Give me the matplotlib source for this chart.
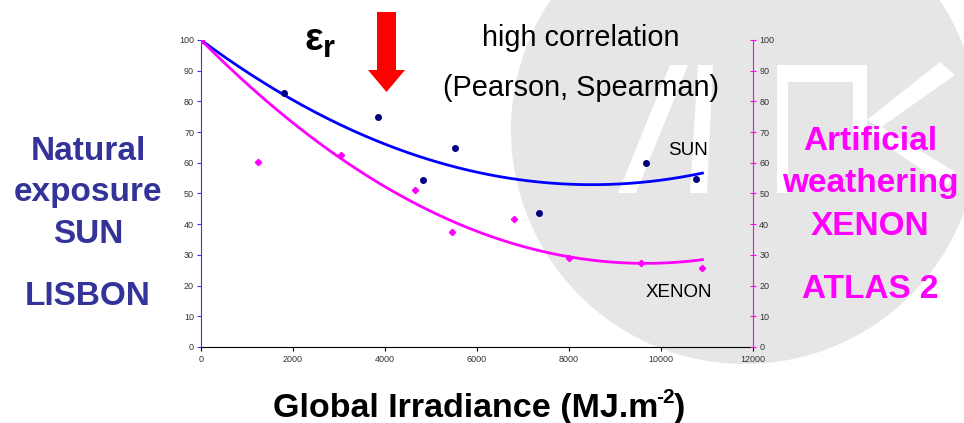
import numpy as np
import matplotlib
matplotlib.use("Agg")
import matplotlib.pyplot as plt
from matplotlib.patches import Ellipse, Polygon

plt.rcParams['font.family'] = ['Liberation Sans', 'DejaVu Sans']

# ---- data ----
sun_x = [0, 1800, 3850, 4830, 5530, 7350, 9680, 10750]
sun_y = [100, 82.6, 75.0, 54.4, 64.7, 43.6, 60.0, 54.7]
xenon_x = [0, 1230, 3040, 4650, 5460, 6800, 7990, 9560, 10900]
xenon_y = [100, 60.4, 62.5, 51.1, 37.6, 41.7, 28.9, 27.3, 25.8]
x_ticks = [0, 2000, 4000, 6000, 8000, 10000, 12000]
y_ticks = [0, 10, 20, 30, 40, 50, 60, 70, 80, 90, 100]

W, H = 964, 423
fig = plt.figure(figsize=(W / 100, H / 100), dpi=100)
fig.patch.set_facecolor('white')


def fx(x):
    return x / W


def fy(y):
    return 1 - y / H


# background grey circle (logo)
circ = Ellipse((fx(745), fy(130)), 2 * 234 / W, 2 * 234 / H,
               transform=fig.transFigure, facecolor='#e6e6e6',
               edgecolor='none', zorder=0)
fig.add_artist(circ)


def poly(pts, color='white', z=0.5):
    p = Polygon([(fx(a), fy(b)) for a, b in pts], closed=True,
                transform=fig.transFigure, facecolor=color,
                edgecolor='none', zorder=z)
    fig.add_artist(p)


# white logo strokes
poly([(618, 193), (636, 193), (688, 65), (670, 65)])
poly([(690, 193), (707, 193), (713, 65), (698, 65)])
poly([(777, 193), (788, 193), (788, 65), (777, 65)])
poly([(777, 65), (867, 65), (867, 82), (777, 82)])
poly([(853, 65), (867, 65), (867, 135), (853, 135)])
poly([(940, 62), (955, 75), (880, 128), (867, 120)])
poly([(867, 133), (880, 126), (955, 172), (947, 186)])

# ---- axes ----
ax = fig.add_axes([fx(201), fy(347), 552 / W, 307 / H])
ax.set_facecolor('none')
ax.set_zorder(2)

xs = np.linspace(0, max(xenon_x), 200)


def fit100(x, y):
    x = np.asarray(x, float)
    y = np.asarray(y, float) - 100
    A = np.vstack([x, x ** 2]).T
    c, *_ = np.linalg.lstsq(A, y, rcond=None)
    return lambda t: 100 + c[0] * t + c[1] * t ** 2


f_sun = fit100(sun_x, sun_y)
f_xen = fit100(xenon_x, xenon_y)
ax.plot(xs, f_sun(xs), color='#0000ff', lw=2.0, zorder=3)
ax.plot(xs, f_xen(xs), color='#ff00ff', lw=2.0, zorder=3)
ax.plot(sun_x, sun_y, 'o', color='#000080', ms=4, zorder=4)
ax.plot(xenon_x, xenon_y, 'D', color='#ff00ff', ms=3.2, zorder=4)

ax.set_xlim(0, 12000)
ax.set_ylim(0, 100)
ax.set_xticks(x_ticks)
ax.set_yticks(y_ticks)
ax.tick_params(axis='both', labelsize=6.5, labelcolor='#333333', length=3, width=0.8)
ax.tick_params(axis='y', color='#3333ff', pad=2)
ax.tick_params(axis='x', color='black', pad=3)
ax.spines['left'].set_color('#3333ff')
ax.spines['bottom'].set_color('black')
ax.spines['top'].set_visible(False)
ax.spines['right'].set_visible(False)

ax2 = ax.twinx()
ax2.set_ylim(0, 100)
ax2.set_yticks(y_ticks)
ax2.tick_params(axis='y', labelsize=6.5, labelcolor='#333333', color='#ff00ff',
                direction='inout', length=5, width=0.8, pad=2)
for s in ['left', 'top', 'bottom']:
    ax2.spines[s].set_visible(False)
ax2.spines['right'].set_color('#ff00ff')

# ---- annotations ----
ax.text(11022, 62.6, 'SUN', fontsize=13.5, color='black', ha='right', va='baseline')
ax.text(11109, 16.3, 'XENON', fontsize=13.5, color='black', ha='right', va='baseline')

fig.text(fx(305), fy(50), 'ε', fontsize=28, fontweight='bold', color='black', va='baseline')
fig.text(fx(323), fy(57), 'r', fontsize=22, fontweight='bold', color='black', va='baseline')

# red arrow
poly([(377, 12), (396, 12), (396, 70), (405, 70), (386.5, 92), (368, 70), (377, 70)],
     color='#ff0000', z=3)

fig.text(fx(581), fy(46), 'high correlation', fontsize=20.8, ha='center', va='baseline')
fig.text(fx(581), fy(96), '(Pearson, Spearman)', fontsize=20.8, ha='center', va='baseline')

blue_c = '#333399'
for txt, yb in [('Natural', 160), ('exposure', 201), ('SUN', 243), ('LISBON', 305)]:
    fig.text(fx(88), fy(yb), txt, fontsize=24, fontweight='bold', color=blue_c,
             ha='center', va='baseline')

mag = '#ff00ff'
for txt, yb in [('Artificial', 150), ('weathering', 192), ('XENON', 235), ('ATLAS 2', 298)]:
    fig.text(fx(870), fy(yb), txt, fontsize=24, fontweight='bold', color=mag,
             ha='center', va='baseline', zorder=5)

# x-axis title built from pieces (superscript -2)
renderer = fig.canvas.get_renderer()
parts = [('Global Irradiance (MJ.m', 24.5, 0, -2), ('-2', 15, 14, -1), (')', 24.5, 0, 0)]
widths = []
for s, fs, dy, adj in parts:
    t = fig.text(0, 0, s, fontsize=fs, fontweight='bold')
    widths.append(t.get_window_extent(renderer).width + adj)
    t.remove()
total = sum(widths)
x0 = 479 - total / 2
for (s, fs, dy, adj), w in zip(parts, widths):
    fig.text(fx(x0), fy(417) + dy / H, s, fontsize=fs, fontweight='bold',
             ha='left', va='baseline')
    x0 += w

fig.savefig('out.png', dpi=100)
